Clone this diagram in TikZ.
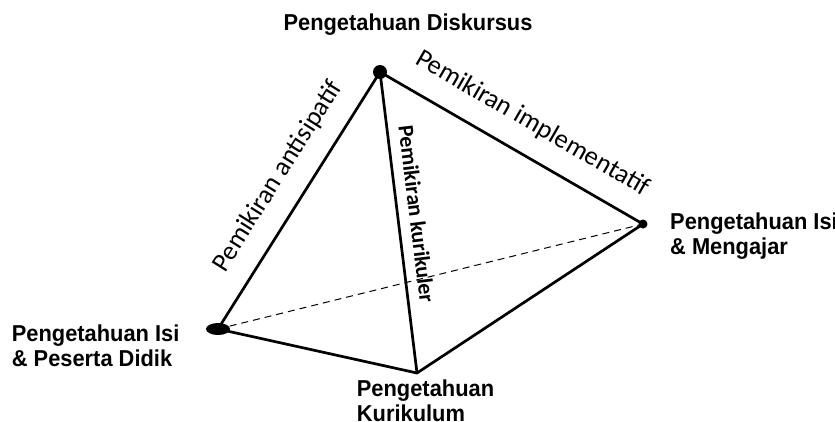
\documentclass[tikz,border=0pt]{standalone}
\usepackage{fontspec}
\setmainfont{Liberation Sans}
\newfontfamily\lblfont[FakeStretch=0.95]{Liberation Sans Bold}
\newfontfamily\calfont{Carlito}
\newfontfamily\calbfont{Carlito Bold}
\usetikzlibrary{shapes.geometric}
\begin{document}
\begin{tikzpicture}[x=1pt,y=-1pt,
  edge/.style={line width=2.7pt, line cap=round, line join=round},
  dashedge/.style={line width=1pt, dash pattern=on 7pt off 5pt},
  vlabel/.style={inner sep=0pt, align=left, font=\lblfont\fontsize{23}{24.5}\selectfont},
  elabel/.style={inner sep=0pt, font=\calfont\fontsize{26.5}{29}\selectfont},
  klabel/.style={inner sep=0pt, font=\calbfont\fontsize{22}{24}\selectfont}]
\useasboundingbox (0,0) rectangle (835,421);
\coordinate (a) at (380,72);
\coordinate (l) at (218,329);
\coordinate (r) at (643,224);
\coordinate (b) at (417,373);
% edges
\draw[dashedge] (l) -- (r);
\draw[edge] (l) -- node[elabel, sloped, above=18pt, pos=0.53] (t1) {Pemikiran antisipatif} (a);
\draw[edge] (a) -- node[elabel, sloped, above=19pt, pos=0.52] (t2) {Pemikiran implementatif} (r);
\draw[edge] (a) -- node[klabel, sloped, above=10pt, pos=0.48] (t3) {Pemikiran kurikuler} (b);
\draw[edge] (l) -- (b) -- (r);
% vertex markers
\node[circle, fill=black, inner sep=0pt, minimum size=14pt] (na) at (a) {};
\node[ellipse, fill=black, inner sep=0pt, minimum width=24pt, minimum height=12pt] (nl) at (l) {};
\node[circle, fill=black, inner sep=0pt, minimum size=9pt] (nr) at (r) {};
% vertex labels
\node[vlabel, anchor=base] (la) at (408,30.7) {Pengetahuan Diskursus};
\node[vlabel, anchor=north west] (lr) at (670,213) {Pengetahuan Isi\\\& Mengajar};
\node[vlabel, anchor=north west] (ll) at (11.7,325) {Pengetahuan Isi\\\& Peserta Didik};
\node[vlabel, anchor=north west] (lb) at (356.7,380) {Pengetahuan\\Kurikulum};
\end{tikzpicture}
\end{document}
